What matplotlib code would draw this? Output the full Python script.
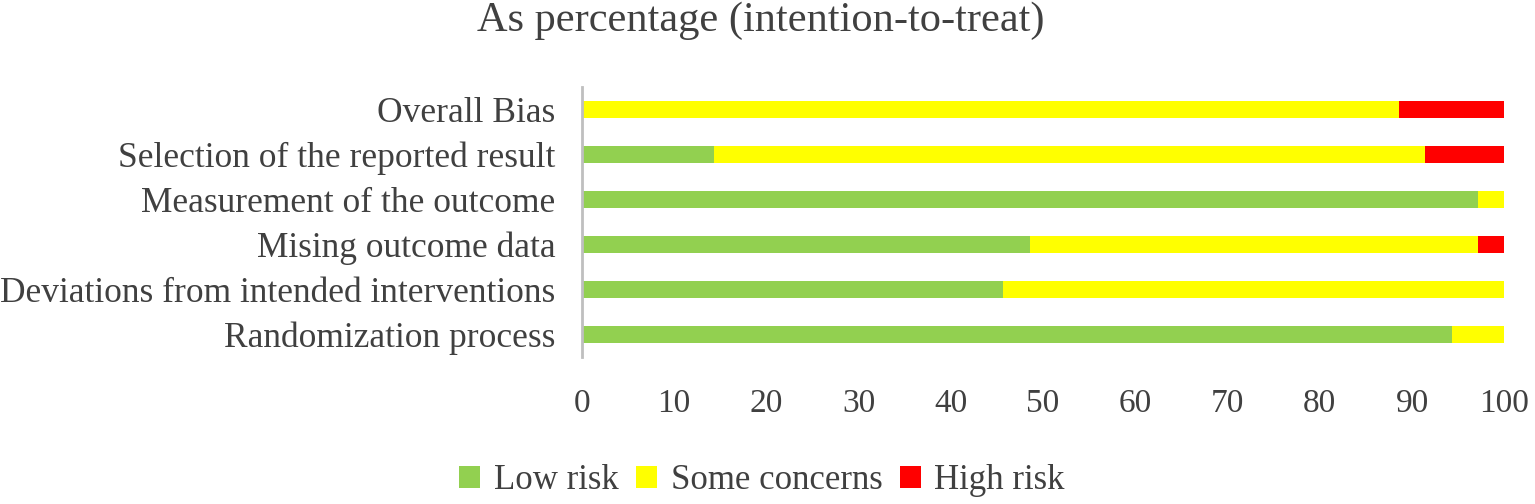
import matplotlib.pyplot as plt
import numpy as np
from matplotlib.patches import Patch

# risk-of-bias domains, bottom to top
domains = ['Randomization process',
           'Deviations from intended interventions',
           'Mising outcome data',
           'Measurement of the outcome',
           'Selection of the reported result',
           'Overall Bias']

# percentages (35 studies)
low_risk = [94.3, 45.7, 48.6, 97.1, 14.3, 0.0]
some_concerns = [5.7, 54.3, 48.6, 2.9, 77.1, 88.6]
high_risk = [0.0, 0.0, 2.8, 0.0, 8.6, 11.4]

legend_labels = ['Low risk', 'Some concerns', 'High risk']
colors = ['#92D050', '#FFFF00', '#FF0000']
text_color = '#404040'

plt.rcParams['font.family'] = ['Liberation Serif', 'DejaVu Serif']

fig = plt.figure(figsize=(15.35, 5.04), dpi=100)
ax = fig.add_axes([0.379, 0.292, 0.601, 0.535])

y = np.arange(len(domains))
low = np.array(low_risk)
some = np.array(some_concerns)
high = np.array(high_risk)

ax.barh(y, low, height=0.38, color=colors[0])
ax.barh(y, some, left=low, height=0.38, color=colors[1])
ax.barh(y, high, left=low + some, height=0.38, color=colors[2])

ax.set_xlim(0, 100)
ax.set_ylim(-0.5, len(domains) - 0.5)
ax.set_xticks(np.arange(0, 101, 10))
ax.set_yticks(y)
ax.set_yticklabels(domains)
ax.tick_params(axis='both', length=0, colors=text_color)
ax.tick_params(axis='x', labelsize=24, pad=23)
ax.tick_params(axis='y', labelsize=25.5, pad=19)

for side in ['top', 'right', 'bottom']:
    ax.spines[side].set_visible(False)
ax.spines['left'].set_color('#BFBFBF')
ax.spines['left'].set_linewidth(2)

fig.text(0.4955, 1 - 31 / 504, 'As percentage (intention-to-treat)', ha='center',
         va='baseline', fontsize=30.5, color=text_color)

handles = [Patch(facecolor=c, edgecolor='none') for c in colors]
fig.legend(handles, legend_labels, loc='center', bbox_to_anchor=(0.4964, 0.046),
           ncol=3, frameon=False, fontsize=25, handlelength=0.6,
           handleheight=0.6, handletextpad=0.4, columnspacing=0.5,
           labelcolor=text_color)

plt.savefig('out.png', dpi=100)
